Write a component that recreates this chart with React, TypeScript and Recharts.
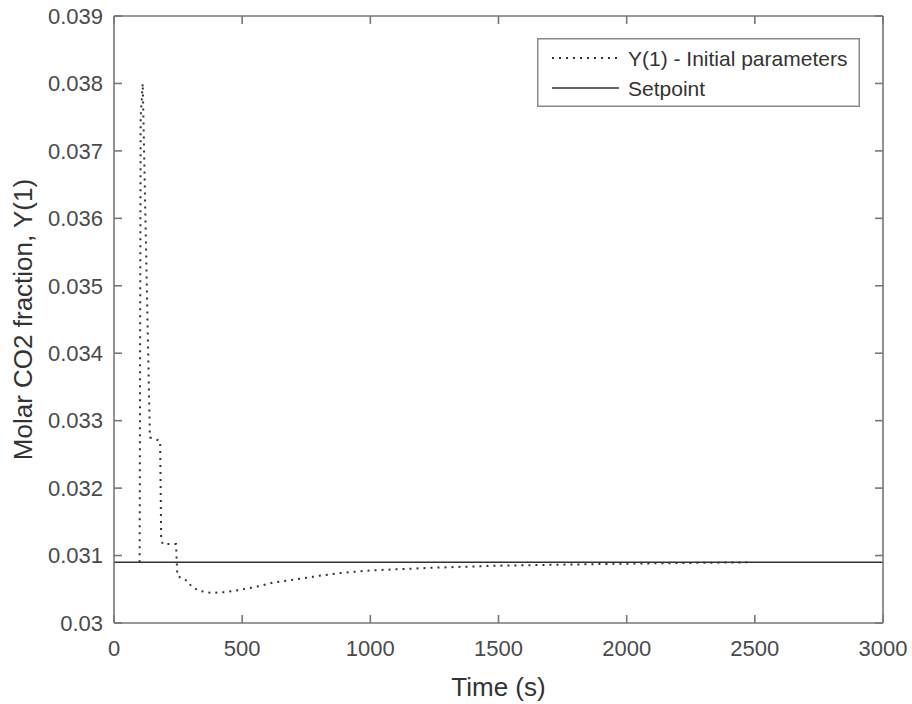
import React from 'react';
import { LineChart, Line, XAxis, YAxis, Legend } from 'recharts';

// time (s) and molar CO2 fraction
const timeInitial = [100, 104, 112, 140, 180, 184, 190, 242, 247, 270, 290, 300, 330, 380, 440, 490, 570, 620, 680, 750, 800, 880, 1000, 1250, 1500, 2000, 2470];
const yInitial = [0.0309, 0.0375, 0.038, 0.03275, 0.0327, 0.03125, 0.03117, 0.03117, 0.0307, 0.03065, 0.03062, 0.03055, 0.03048, 0.030445, 0.03046, 0.03049, 0.03055, 0.0306, 0.03063, 0.03067, 0.0307, 0.03074, 0.03078, 0.03082, 0.03085, 0.03088, 0.0309];

const setpointTime = [0, 3000];
const setpointValue = [0.0309, 0.0309];

const xTicks = [0, 500, 1000, 1500, 2000, 2500, 3000];
const yTicks = [0.03, 0.031, 0.032, 0.033, 0.034, 0.035, 0.036, 0.037, 0.038, 0.039];

const legendItems = [
  { name: 'Y(1) - Initial parameters', dash: '2 5' },
  { name: 'Setpoint', dash: undefined },
];

const initialData = timeInitial.map((t, i) => ({ t, y: yInitial[i] }));
const setpointData = setpointTime.map((t, i) => ({ t, y: setpointValue[i] }));

const FONT = '"Liberation Sans", Arial, Helvetica, sans-serif';
const AXIS = '#777';
const TEXT = '#4a4a4a';

const fmtY = (v: number) => v.toFixed(3).replace(/0+$/, '');
const blank = () => '';

const renderLegend = () => (
  <svg width={323} height={69} style={{ display: 'block' }}>
    <rect x={0.75} y={0.75} width={321.5} height={67.5} fill="#fff" stroke="#8a8a8a" strokeWidth={1.5} />
    {legendItems.map((item, i) => (
      <g key={item.name}>
        <line x1={15} x2={82} y1={20 + i * 30} y2={20 + i * 30} stroke="#333" strokeWidth={item.dash ? 2 : 1.6} strokeDasharray={item.dash} />
        <text x={91} y={28 + i * 30} fontSize={21} fill="#333" fontFamily={FONT}>{item.name}</text>
      </g>
    ))}
  </svg>
);

const YLabel = (props: any) => {
  const vb = props.viewBox || { x: 0, y: 16, width: 114, height: 607 };
  const x = vb.x + 32;
  const y = vb.y + vb.height / 2;
  return (
    <text x={x} y={y} transform={`rotate(-90 ${x} ${y})`} textAnchor="middle" fontSize={26} fill="#333" fontFamily={FONT}>
      Molar CO2 fraction, Y(1)
    </text>
  );
};

export default function App() {
  return (
    <div style={{ position: 'absolute', left: 0, top: 0, width: 912, height: 704, background: '#fff', fontFamily: FONT }}>
      <LineChart width={912} height={704} margin={{ top: 0, right: 0, bottom: 0, left: 0 }}>
        <XAxis
          dataKey="t"
          type="number"
          domain={[0, 3000]}
          ticks={xTicks}
          height={81}
          tickSize={-8}
          tickMargin={25}
          stroke={AXIS}
          strokeWidth={1.6}
          tick={{ fill: TEXT, fontSize: 22, fontFamily: FONT }}
          allowDataOverflow
          label={{ value: 'Time (s)', position: 'insideBottom', offset: 8, fontSize: 26, fill: '#333', fontFamily: FONT }}
        />
        <XAxis
          xAxisId="top"
          orientation="top"
          dataKey="t"
          type="number"
          domain={[0, 3000]}
          ticks={xTicks}
          height={16}
          tickSize={-8}
          stroke={AXIS}
          strokeWidth={1.6}
          tickFormatter={blank}
          allowDataOverflow
        />
        <YAxis
          type="number"
          domain={[0.03, 0.039]}
          ticks={yTicks}
          width={114}
          tickSize={-8}
          tickMargin={19}
          stroke={AXIS}
          strokeWidth={1.6}
          tickFormatter={fmtY}
          tick={{ fill: TEXT, fontSize: 22, fontFamily: FONT }}
          allowDataOverflow
          label={{ content: YLabel }}
        />
        <YAxis
          yAxisId="right"
          orientation="right"
          type="number"
          domain={[0.03, 0.039]}
          ticks={yTicks}
          width={29}
          tickSize={-8}
          stroke={AXIS}
          strokeWidth={1.6}
          tickFormatter={blank}
          allowDataOverflow
        />
        <Legend
          layout="horizontal"
          verticalAlign="middle"
          align="center"
          content={renderLegend}
          wrapperStyle={{ left: 537, top: 38, width: 323, height: 69 }}
        />
        <Line
          data={initialData}
          dataKey="y"
          name="Y(1) - Initial parameters"
          type="linear"
          stroke="#333"
          strokeWidth={2}
          strokeDasharray="2 5"
          dot={false}
          isAnimationActive={false}
        />
        <Line
          data={setpointData}
          dataKey="y"
          name="Setpoint"
          type="linear"
          stroke="#333"
          strokeWidth={1.6}
          dot={false}
          isAnimationActive={false}
        />
      </LineChart>
    </div>
  );
}
